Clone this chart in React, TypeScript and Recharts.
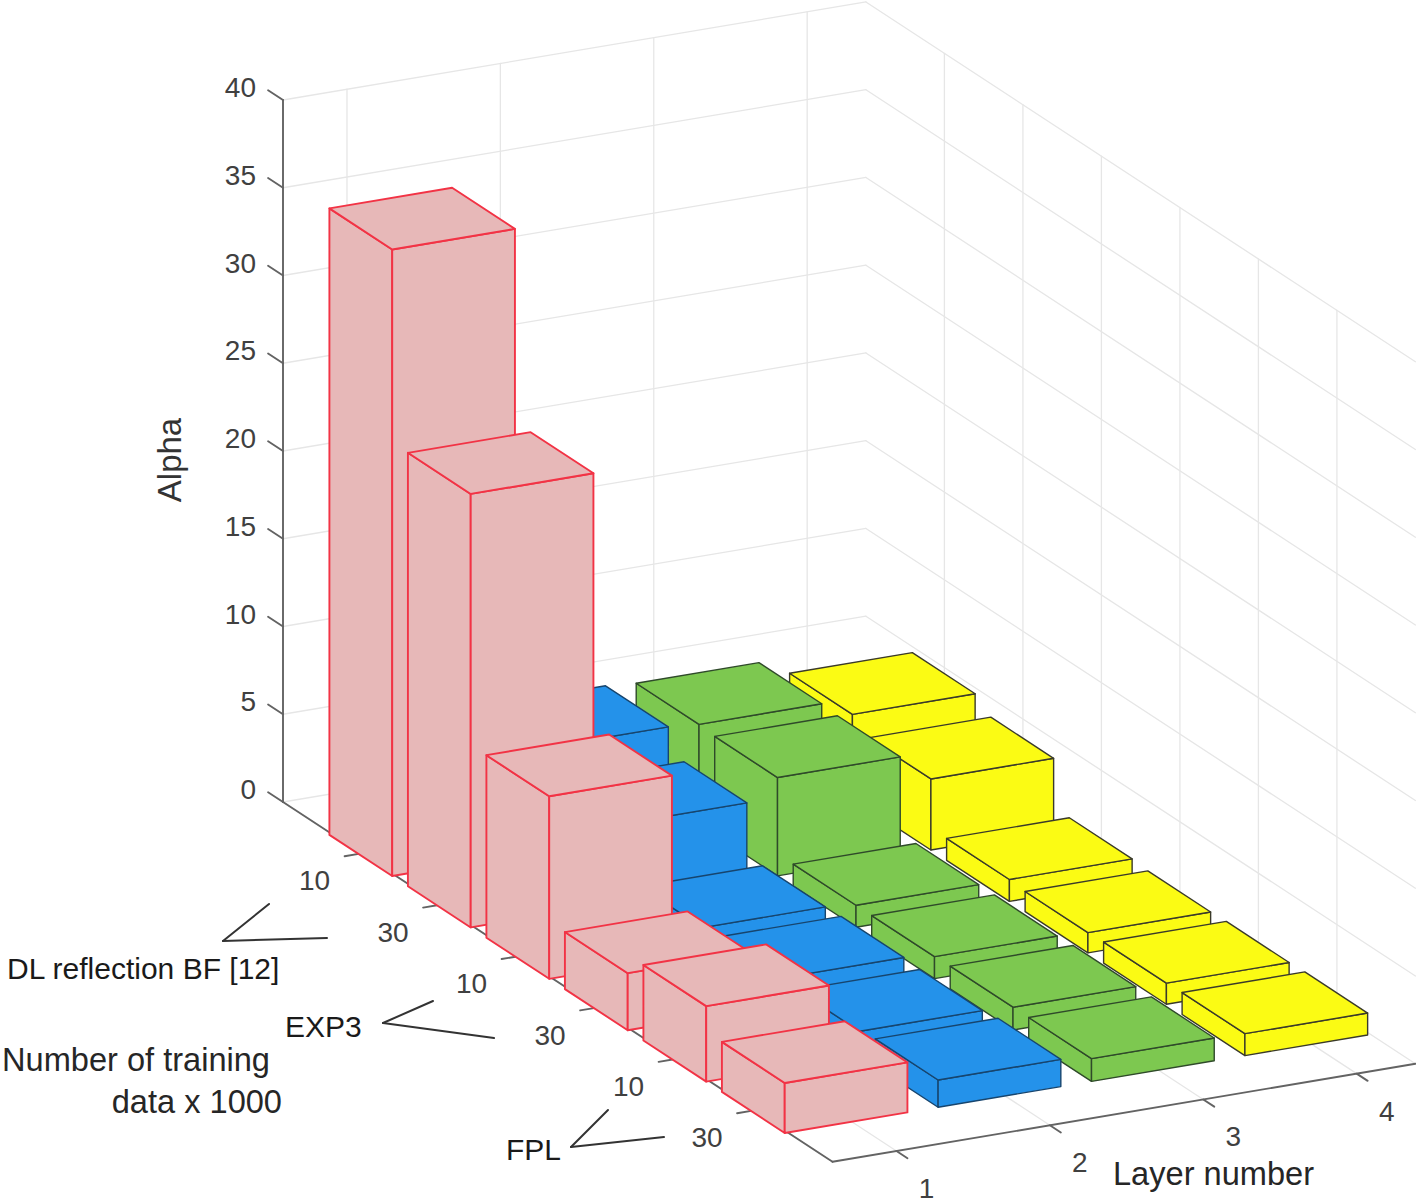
import { ScatterChart, Scatter, XAxis, YAxis } from "recharts";

const WIDTH = 1416;
const HEIGHT = 1204;

// alpha per training set, one list per layer (DL 10, DL 30, EXP3 10, EXP3 30, FPL 10, FPL 30)
const layer1 = [35.7, 24.7, 10.4, 3.25, 4.3, 2.85];
const layer2 = [5.85, 4.45, 1.45, 1.5, 1.4, 1.55];
const layer3 = [5.7, 5.6, 1.25, 1.25, 1.3, 1.3];
const layer4 = [4.8, 4.05, 1.25, 1.15, 1.2, 1.25];

const layerTicks = [1, 2, 3, 4];
const trainingTicks = [1, 2, 3, 4, 5, 6];
const trainingLabels = ["10", "30", "10", "30", "10", "30"];
const alphaTicks = [0, 5, 10, 15, 20, 25, 30, 35, 40];

// view of the 3D box: orthographic, so one screen vector per data axis
const ORIGIN = { x: 283, y: 802 };
const LAYER_VEC = { x: 153.4, y: -25.8 };
const TRAIN_VEC = { x: 78.5, y: 51.4 };
const ALPHA_STEP = 17.55;
const LAYER_MIN = 0.583;
const LAYER_MAX = 4.383;
const TRAIN_MAX = 7;
const ALPHA_MAX = 40;
const HALF_BAR = 0.4;
// bars sit a touch off the tick positions in the original
const BAR_SHIFT = { x: -3.3, y: 2.5 };

const project = (layer: number, train: number, alpha: number) => ({
  x: ORIGIN.x + (layer - LAYER_MIN) * LAYER_VEC.x + train * TRAIN_VEC.x,
  y: ORIGIN.y + (layer - LAYER_MIN) * LAYER_VEC.y + train * TRAIN_VEC.y - alpha * ALPHA_STEP,
});

const segment = (a: { x: number; y: number }, b: { x: number; y: number }) => ({
  x: a.x,
  y: a.y,
  dx: b.x - a.x,
  dy: b.y - a.y,
});

const gridSegments = [
  ...alphaTicks.flatMap((z) => [
    segment(project(LAYER_MIN, 0, z), project(LAYER_MAX, 0, z)),
    segment(project(LAYER_MAX, 0, z), project(LAYER_MAX, TRAIN_MAX, z)),
  ]),
  ...layerTicks.flatMap((l) => [
    segment(project(l, 0, 0), project(l, 0, ALPHA_MAX)),
    segment(project(l, 0, 0), project(l, TRAIN_MAX, 0)),
  ]),
  ...trainingTicks.flatMap((t) => [
    segment(project(LAYER_MAX, t, 0), project(LAYER_MAX, t, ALPHA_MAX)),
    segment(project(LAYER_MIN, t, 0), project(LAYER_MAX, t, 0)),
  ]),
];

const axisSegments = [
  segment(project(LAYER_MIN, 0, 0), project(LAYER_MIN, 0, ALPHA_MAX)),
  segment(project(LAYER_MIN, 0, 0), project(LAYER_MIN, TRAIN_MAX, 0)),
  segment(project(LAYER_MIN, TRAIN_MAX, 0), project(LAYER_MAX, TRAIN_MAX, 0)),
  ...alphaTicks.map((z) => segment(project(LAYER_MIN, 0, z), project(LAYER_MIN, -0.19, z))),
  ...trainingTicks.map((t) => segment(project(LAYER_MIN, t, 0), project(LAYER_MIN - 0.11, t, 0))),
  ...layerTicks.map((l) => segment(project(l, TRAIN_MAX, 0), project(l, TRAIN_MAX + 0.14, 0))),
];

const tickTexts = [
  ...alphaTicks.map((z) => {
    const p = project(LAYER_MIN, 0, z);
    return { x: p.x - 27, y: p.y - 3, text: String(z), anchor: "end" };
  }),
  ...trainingTicks.map((t, i) => {
    const p = project(LAYER_MIN, t, 0);
    return { x: p.x - 47, y: p.y + 37, text: trainingLabels[i], anchor: "middle" };
  }),
  ...layerTicks.map((l) => {
    const p = project(l, TRAIN_MAX, 0);
    return { x: p.x + 30, y: p.y + 47, text: String(l), anchor: "middle" };
  }),
];

const noteTexts = [
  { x: 7, y: 979, text: "DL reflection BF [12]", anchor: "start" },
  { x: 285, y: 1037, text: "EXP3", anchor: "start" },
  { x: 506, y: 1160, text: "FPL", anchor: "start" },
];

const titleTexts = [
  { x: 2, y: 1071, text: "Number of training", anchor: "start" },
  { x: 282, y: 1113, text: "data x 1000", anchor: "end" },
  { x: 1113, y: 1185, text: "Layer number", anchor: "start" },
];

const alphaTitle = [{ x: 181, y: 460, text: "Alpha" }];

const noteLines = [
  segment({ x: 269, y: 904 }, { x: 223, y: 941 }),
  segment({ x: 223, y: 941 }, { x: 327, y: 938 }),
  segment({ x: 433, y: 1001 }, { x: 383, y: 1023 }),
  segment({ x: 383, y: 1023 }, { x: 494, y: 1038 }),
  segment({ x: 608, y: 1110 }, { x: 571, y: 1147 }),
  segment({ x: 571, y: 1147 }, { x: 664, y: 1137 }),
];

// one scatter point per bar, sitting on the bar's nearest floor corner
const barPoints = (layer: number, values: number[]) =>
  values.map((alpha, i) => {
    const p = project(layer - HALF_BAR, trainingTicks[i] + HALF_BAR, 0);
    return { x: p.x + BAR_SHIFT.x, y: p.y + BAR_SHIFT.y, alpha };
  });

const LineShape = (color: string, width: number) => (props: any) => {
  const { cx, cy, payload } = props;
  return (
    <line
      x1={cx}
      y1={cy}
      x2={cx + payload.dx}
      y2={cy + payload.dy}
      stroke={color}
      strokeWidth={width}
      strokeLinecap="round"
    />
  );
};

const TextShape = (size: number, color: string) => (props: any) => {
  const { cx, cy, payload } = props;
  return (
    <text
      x={cx}
      y={cy}
      textAnchor={payload.anchor}
      fontFamily="Liberation Sans"
      fontSize={size}
      fill={color}
    >
      {payload.text}
    </text>
  );
};

const RotatedTitle = (props: any) => {
  const { cx, cy, payload } = props;
  return (
    <text
      x={cx}
      y={cy}
      textAnchor="middle"
      transform={`rotate(-90 ${cx} ${cy})`}
      fontFamily="Liberation Sans"
      fontSize={33}
      fill="#333333"
    >
      {payload.text}
    </text>
  );
};

const BoxShape = (fill: string, edge: string, edgeWidth: number) => (props: any) => {
  const { cx, cy, payload } = props;
  const w = 2 * HALF_BAR;
  const up = payload.alpha * ALPHA_STEP;
  const rx = LAYER_VEC.x * w;
  const ry = LAYER_VEC.y * w;
  const lx = -TRAIN_VEC.x * w;
  const ly = -TRAIN_VEC.y * w;
  const pts = (list: number[][]) => list.map((p) => `${p[0]},${p[1]}`).join(" ");
  const left = pts([[cx, cy], [cx + lx, cy + ly], [cx + lx, cy + ly - up], [cx, cy - up]]);
  const right = pts([[cx, cy], [cx + rx, cy + ry], [cx + rx, cy + ry - up], [cx, cy - up]]);
  const top = pts([
    [cx, cy - up],
    [cx + rx, cy + ry - up],
    [cx + rx + lx, cy + ry + ly - up],
    [cx + lx, cy + ly - up],
  ]);
  const face = { fill, stroke: edge, strokeWidth: edgeWidth, strokeLinejoin: "round" as const };
  return (
    <g>
      <polygon points={left} {...face} />
      <polygon points={right} {...face} />
      <polygon points={top} {...face} />
    </g>
  );
};

const series = [
  { layer: 4, values: layer4, fill: "#FBFB14", edge: "#3a3a2a", width: 1.4 },
  { layer: 3, values: layer3, fill: "#7DC850", edge: "#2f4a2a", width: 1.4 },
  { layer: 2, values: layer2, fill: "#2492EA", edge: "#17456e", width: 1.4 },
  { layer: 1, values: layer1, fill: "#E7B8B8", edge: "#F23345", width: 1.9 },
];

export default function App() {
  return (
    <div style={{ position: "absolute", left: 0, top: 0, width: WIDTH, height: HEIGHT, background: "#fff" }}>
      <ScatterChart width={WIDTH} height={HEIGHT} margin={{ top: 0, right: 0, bottom: 0, left: 0 }}>
        {/* axes run in screen units, the projection above does the 3D part */}
        <XAxis type="number" dataKey="x" domain={[0, WIDTH]} hide />
        <YAxis type="number" dataKey="y" domain={[0, HEIGHT]} reversed hide />

        <Scatter data={gridSegments} shape={LineShape("#e6e6e6", 1.3)} isAnimationActive={false} />
        <Scatter data={axisSegments} shape={LineShape("#636363", 1.9)} isAnimationActive={false} />

        {series.map((s) => (
          <Scatter
            key={s.layer}
            data={barPoints(s.layer, s.values)}
            shape={BoxShape(s.fill, s.edge, s.width)}
            isAnimationActive={false}
          />
        ))}

        <Scatter data={tickTexts} shape={TextShape(28, "#404040")} isAnimationActive={false} />
        <Scatter data={noteTexts} shape={TextShape(30, "#1a1a1a")} isAnimationActive={false} />
        <Scatter data={titleTexts} shape={TextShape(32.6, "#262626")} isAnimationActive={false} />
        <Scatter data={alphaTitle} shape={RotatedTitle} isAnimationActive={false} />
        <Scatter data={noteLines} shape={LineShape("#333333", 2)} isAnimationActive={false} />
      </ScatterChart>
    </div>
  );
}
